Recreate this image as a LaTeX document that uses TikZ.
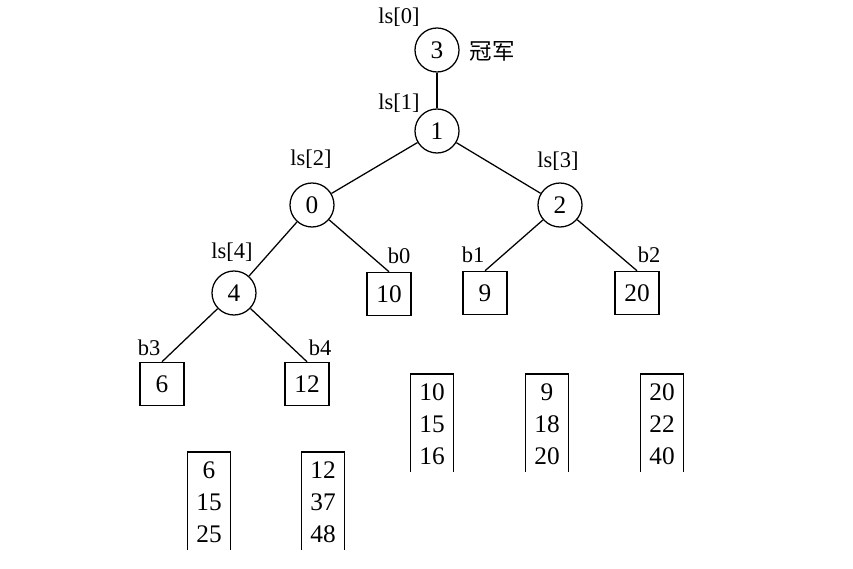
\documentclass[tikz,border=0pt]{standalone}
\usepackage{fontspec}
\setmainfont{Liberation Serif}
\newfontfamily\cjk{Noto Sans CJK SC}
\begin{document}
\begin{tikzpicture}[x=0.025cm,y=-0.025cm,line width=0.9pt,
    every node/.style={font=\fontsize{18}{21}\selectfont},
    player/.style={draw,circle,minimum size=1.1cm,inner sep=0pt},
    leaf/.style={draw,rectangle,minimum width=1.1cm,minimum height=1.08cm,inner sep=0pt},
    tag/.style={font=\fontsize{16}{19}\selectfont,inner sep=0pt}]
      \useasboundingbox (0,0) rectangle (853,569);

      % loser tree
      \node[player] (w)  at (437,50)  {3};
      \node[player] (n1) at (437,131) {1};
      \node[player] (n0) at (312,205) {0};
      \node[player] (n2) at (560,205) {2};
      \node[player] (n4) at (234,293) {4};

      \node[leaf] (b0) at (389,294) {10};
      \node[leaf] (b1) at (485,293) {9};
      \node[leaf] (b2) at (637,293) {20};
      \node[leaf] (b3) at (162,384) {6};
      \node[leaf] (b4) at (307,384) {12};

      \draw (w) -- (n1);
      \draw (n1) -- (n0);
      \draw (n1) -- (n2);
      \draw (n0) -- (n4);
      \draw (n0) -- (b0.north);
      \draw (n2) -- (b1.north);
      \draw (n2) -- (b2.north);
      \draw (n4) -- (b3.north);
      \draw (n4) -- (b4.north);

      \node[tag] (t0) at (399,17)  {ls[0]};
      \node[tag] (t1) at (399,103) {ls[1]};
      \node[tag] (t2) at (311,159) {ls[2]};
      \node[tag] (t3) at (558,161) {ls[3]};
      \node[tag] (t4) at (232,252) {ls[4]};
      \node[tag] (c)  at (492,51)  {\cjk 冠军};

      \node[tag] (l0) at (399,256) {b0};
      \node[tag] (l1) at (473,255) {b1};
      \node[tag] (l2) at (649,255) {b2};
      \node[tag] (l3) at (149,348) {b3};
      \node[tag] (l4) at (320,348) {b4};

      % runs
      \foreach \r/\x/\y/\p/\q/\s in {r3/209/452/6/15/25, r4/323/452/12/37/48,
          r0/432/374/10/15/16, r1/547/374/9/18/20, r2/662/374/20/22/40}
      {
        \draw (\x-21.5,\y+98) -- (\x-21.5,\y) -- (\x+21.5,\y) -- (\x+21.5,\y+98);
        \node (\r-a) at (\x,\y+18) {\p};
        \node (\r-b) at (\x,\y+50) {\q};
        \node (\r-c) at (\x,\y+82) {\s};
      }
    \end{tikzpicture}
\end{document}
